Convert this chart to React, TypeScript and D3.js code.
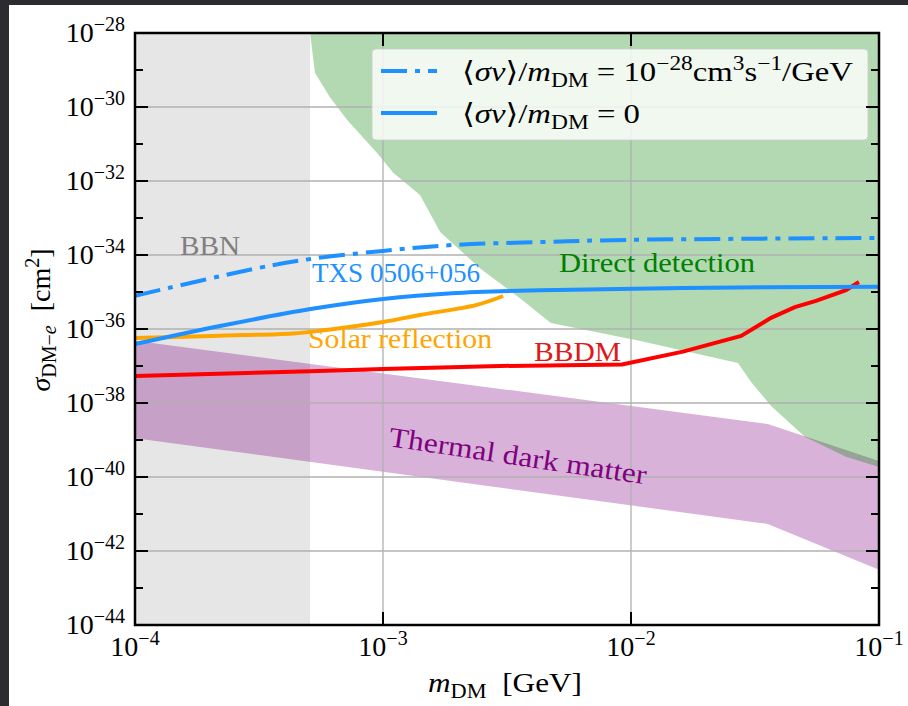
import React from "react";
import * as d3 from "d3";

// ---- data ----
const xTickExponents = [-4, -3, -2, -1];
const yMajorExponents = [-28, -30, -32, -34, -36, -38, -40, -42, -44];
const yMinorExponents = [-29, -31, -33, -35, -37, -39, -41, -43];

const bbnMassMax = 5.08e-4;

const ddMass = [5.08e-4, 5.32e-4, 6.1e-4, 7.16e-4, 9.46e-4, 1.1e-3, 1.41e-3, 1.7e-3, 2.48e-3, 3.6e-3, 4.75e-3, 1.08e-2, 2.7e-2, 3.05e-2, 3.67e-2, 5.04e-2, 7.36e-2, 1e-1];
const ddSigma = [1e-28, 8.3e-30, 1.86e-30, 4.5e-31, 5.75e-32, 1.66e-32, 4.2e-33, 4.2e-34, 4.2e-35, 6.5e-36, 1.45e-36, 4.8e-37, 1.2e-37, 3.7e-38, 8.3e-39, 1.2e-39, 3.5e-40, 1.86e-40];

const thermalMass = [1e-4, 3.56e-2, 1e-1];
const thermalUpper = [4.8e-37, 2.7e-39, 2.7e-40];
const thermalLower = [1.12e-39, 5.4e-42, 3.1e-43];

const dashMass = [1e-4, 3.16e-4, 5.1e-4, 1e-3, 1.9e-3, 4.3e-3, 1e-2, 1e-1];
const dashSigma = [7.9e-36, 4.5e-35, 7.8e-35, 1.29e-34, 1.86e-34, 2.24e-34, 2.57e-34, 2.88e-34];

const solidMass = [1e-4, 2.2e-4, 5.1e-4, 1e-3, 1.9e-3, 4.3e-3, 1.62e-2, 1e-1];
const solidSigma = [3.9e-37, 1.2e-36, 3.47e-36, 6.5e-36, 9.3e-36, 1.12e-35, 1.29e-35, 1.38e-35];

const solarMass = [1e-4, 2.2e-4, 4.33e-4, 5.57e-4, 1e-3, 1.41e-3, 2.39e-3, 3.05e-3];
const solarSigma = [5.75e-37, 6.6e-37, 7.6e-37, 9.0e-37, 1.55e-36, 2.4e-36, 4.5e-36, 7.8e-36];

const bbdmMass = [1e-4, 5.1e-4, 1e-3, 2.96e-3, 9.2e-3, 1.62e-2, 2.78e-2, 3.67e-2, 4.58e-2, 5.57e-2, 7.36e-2, 8.3e-2];
const bbdmSigma = [5.4e-38, 7.2e-38, 8.3e-38, 1e-37, 1.1e-37, 2.45e-37, 6.5e-37, 2.0e-36, 3.9e-36, 5.75e-36, 1.12e-35, 1.86e-35];

// ---- layout ----
const W = 908, H = 706;
const L = 135, R = 879, T = 33, B = 625;
const FONT = "'Liberation Serif', 'DejaVu Serif', serif";
const BLUE = "#1e90ff";

const zip = (a: number[], b: number[]) => a.map((v, i) => [v, b[i]] as [number, number]);

export default function App() {
  const x = d3.scaleLog().domain([1e-4, 1e-1]).range([L, R]);
  const y = d3.scaleLog().domain([1e-44, 1e-28]).range([B, T]);

  const line = d3.line<[number, number]>().x(d => x(d[0])).y(d => y(d[1]));
  const smooth = d3.line<[number, number]>().x(d => x(d[0])).y(d => y(d[1])).curve(d3.curveCatmullRom.alpha(0.5));

  const thermalArea = d3.area<number>()
    .x((_, i) => x(thermalMass[i]))
    .y0((_, i) => y(thermalLower[i]))
    .y1((_, i) => y(thermalUpper[i]))(thermalMass) as string;

  const ddPts = zip(ddMass, ddSigma).concat([[1e-1, 1e-28]]);
  const ddPath = (line(ddPts) as string) + "Z";

  const supDy = -11;
  const tickLabel = (e: number) => (
    <>
      <tspan>10</tspan>
      <tspan fontSize={20} dy={supDy}>{"\u2212" + Math.abs(e)}</tspan>
    </>
  );

  return (
    <svg width={W} height={H} style={{ position: "absolute", left: 0, top: 0, background: "#fff" }} fontFamily={FONT}>
      <rect x={0} y={0} width={W} height={H} fill="#ffffff" />
      <rect x={0} y={0} width={W} height={5} fill="#2c2c30" />
      <rect x={0} y={0} width={9} height={H} fill="#2c2c30" />

      <defs>
        <clipPath id="plot">
          <rect x={L} y={T} width={R - L} height={B - T} />
        </clipPath>
      </defs>

      <g clipPath="url(#plot)">
        {/* BBN */}
        <rect x={L} y={T} width={x(bbnMassMax) - L} height={B - T} fill="gray" fillOpacity={0.2} />
        {/* thermal */}
        <path d={thermalArea} fill="purple" fillOpacity={0.3} />
        {/* direct detection */}
        <path d={ddPath} fill="green" fillOpacity={0.3} />

        {/* grid */}
        {xTickExponents.map(e => (
          <line key={"gx" + e} x1={x(10 ** e)} x2={x(10 ** e)} y1={T} y2={B} stroke="#b0b0b0" strokeWidth={1.3} />
        ))}
        {yMajorExponents.map(e => (
          <line key={"gy" + e} x1={L} x2={R} y1={y(10 ** e)} y2={y(10 ** e)} stroke="#b0b0b0" strokeWidth={1.3} />
        ))}

        {/* curves */}
        <path d={line(zip(bbdmMass, bbdmSigma)) as string} fill="none" stroke="red" strokeWidth={4} />
        <path d={smooth(zip(solarMass, solarSigma)) as string} fill="none" stroke="orange" strokeWidth={4} />
        <path d={smooth(zip(solidMass, solidSigma)) as string} fill="none" stroke={BLUE} strokeWidth={4} />
        <path d={smooth(zip(dashMass, dashSigma)) as string} fill="none" stroke={BLUE} strokeWidth={4} strokeDasharray="26,8,5,8" />
      </g>

      {/* annotations */}
      <text x={180} y={255} fontSize={28} fill="gray" textLength={60} lengthAdjust="spacingAndGlyphs">BBN</text>
      <text x={312} y={282} fontSize={28} fill={BLUE} textLength={168} lengthAdjust="spacingAndGlyphs">TXS 0506+056</text>
      <text x={559} y={272} fontSize={28} fill="green" textLength={196} lengthAdjust="spacingAndGlyphs">Direct detection</text>
      <text x={308} y={348} fontSize={28} fill="orange" textLength={184} lengthAdjust="spacingAndGlyphs">Solar reflection</text>
      <text x={534} y={361} fontSize={28} fill="#e01818" textLength={87} lengthAdjust="spacingAndGlyphs">BBDM</text>
      <text x={0} y={0} fontSize={28} fill="purple" textLength={260} lengthAdjust="spacingAndGlyphs"
        transform="translate(388,446) rotate(8.5)">Thermal dark matter</text>

      {/* legend */}
      <rect x={372} y={49} width={496} height={91} rx={4} fill="#ffffff" fillOpacity={0.8} stroke="#cccccc" strokeOpacity={0.8} strokeWidth={1} />
      <line x1={381} x2={437} y1={71} y2={71} stroke={BLUE} strokeWidth={4} strokeDasharray="26,8,5,8" />
      <line x1={381} x2={437} y1={113} y2={113} stroke={BLUE} strokeWidth={4} />
      <text x={462} y={81} fontSize={28} fill="#000" style={{ whiteSpace: "pre" }} textLength={391} lengthAdjust="spacingAndGlyphs">
        <tspan>{"\u27E8"}</tspan>
        <tspan fontStyle="italic">{"\u03C3v"}</tspan>
        <tspan>{"\u27E9/"}</tspan>
        <tspan fontStyle="italic">m</tspan>
        <tspan fontSize={20} dy={6}>DM</tspan>
        <tspan dy={-6}>{" = 10"}</tspan>
        <tspan fontSize={20} dy={supDy}>{"\u221228"}</tspan>
        <tspan dy={-supDy}>cm</tspan>
        <tspan fontSize={20} dy={supDy}>3</tspan>
        <tspan dy={-supDy}>s</tspan>
        <tspan fontSize={20} dy={supDy}>{"\u22121"}</tspan>
        <tspan dy={-supDy}>/GeV</tspan>
      </text>
      <text x={462} y={123} fontSize={28} fill="#000" style={{ whiteSpace: "pre" }} textLength={178} lengthAdjust="spacingAndGlyphs">
        <tspan>{"\u27E8"}</tspan>
        <tspan fontStyle="italic">{"\u03C3v"}</tspan>
        <tspan>{"\u27E9/"}</tspan>
        <tspan fontStyle="italic">m</tspan>
        <tspan fontSize={20} dy={6}>DM</tspan>
        <tspan dy={-6}>{" = 0"}</tspan>
      </text>

      {/* frame */}
      <rect x={L} y={T} width={R - L} height={B - T} fill="none" stroke="#000" strokeWidth={2.5} />

      {/* x ticks */}
      {xTickExponents.map(e => {
        const px = x(10 ** e);
        return (
          <g key={"xt" + e}>
            <line x1={px} x2={px} y1={B} y2={B - 13} stroke="#000" strokeWidth={2} />
            <line x1={px} x2={px} y1={T} y2={T + 13} stroke="#000" strokeWidth={2} />
            <text x={px} y={656} fontSize={28} textAnchor="middle">{tickLabel(e)}</text>
          </g>
        );
      })}

      {/* y ticks */}
      {yMajorExponents.map(e => {
        const py = y(10 ** e);
        return (
          <g key={"yt" + e}>
            <line x1={L} x2={L + 13} y1={py} y2={py} stroke="#000" strokeWidth={2} />
            <line x1={R} x2={R - 13} y1={py} y2={py} stroke="#000" strokeWidth={2} />
            <text x={125} y={py + 9} fontSize={28} textAnchor="end">{tickLabel(e)}</text>
          </g>
        );
      })}
      {yMinorExponents.map(e => {
        const py = y(10 ** e);
        return (
          <g key={"ym" + e}>
            <line x1={L} x2={L + 8} y1={py} y2={py} stroke="#000" strokeWidth={2} />
            <line x1={R} x2={R - 8} y1={py} y2={py} stroke="#000" strokeWidth={2} />
          </g>
        );
      })}

      {/* axis labels */}
      <text x={(L + R) / 2 - 2} y={692} fontSize={28} textAnchor="middle" style={{ whiteSpace: "pre" }} textLength={154} lengthAdjust="spacingAndGlyphs">
        <tspan fontStyle="italic">m</tspan>
        <tspan fontSize={20} dy={6}>DM</tspan>
        <tspan dy={-6}>{"  [GeV]"}</tspan>
      </text>
      <text transform="translate(50,320) rotate(-90)" fontSize={28} textAnchor="middle" style={{ whiteSpace: "pre" }}>
        <tspan fontStyle="italic">{"\u03C3"}</tspan>
        <tspan fontSize={20} dy={6}>{"DM\u2212"}</tspan>
        <tspan fontSize={20} fontStyle="italic">e</tspan>
        <tspan dy={-6}>{"  [cm"}</tspan>
        <tspan fontSize={20} dy={supDy}>2</tspan>
        <tspan dy={-supDy}>]</tspan>
      </text>
    </svg>
  );
}
